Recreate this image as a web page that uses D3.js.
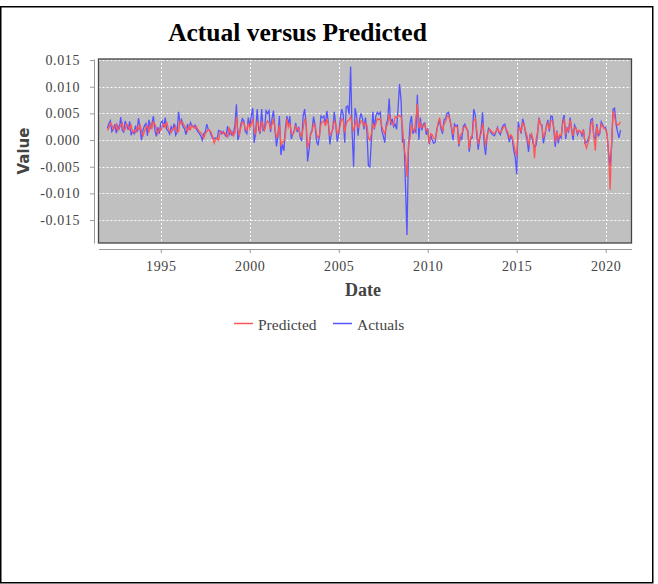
<!DOCTYPE html>
<html>
<head>
<meta charset="utf-8">
<script src="https://cdn.jsdelivr.net/npm/d3@7"></script>
<style>
  body { margin: 0; background: #fff; }
  svg { display: block; }
</style>
</head>
<body>
<div id="chart"></div>
<script>
// monthly series, Jan 1992 .. Nov 2020 (one row per year)
const startYear = 1992;
const actuals = [
  0.0022, 0.0031, 0.0036, 0.0016, 0.0020, 0.0030, 0.0013, 0.0027, 0.0020, 0.0043, 0.0018, 0.0015, // 1992
  0.0036, 0.0028, 0.0019, 0.0035, 0.0009, 0.0017, 0.0012, 0.0027, 0.0015, 0.0041, 0.0022, 0.0000, // 1993
  0.0019, 0.0027, 0.0031, 0.0008, 0.0038, 0.0021, 0.0030, 0.0045, 0.0019, 0.0007, 0.0024, 0.0012, // 1994
  0.0032, 0.0036, 0.0024, 0.0042, 0.0020, 0.0017, 0.0011, 0.0025, 0.0019, 0.0031, 0.0009, 0.0014, // 1995
  0.0053, 0.0031, 0.0038, 0.0025, 0.0021, 0.0010, 0.0030, 0.0019, 0.0033, 0.0027, 0.0024, 0.0028, // 1996
  0.0021, 0.0016, 0.0012, 0.0008, 0.0000, 0.0012, 0.0015, 0.0030, 0.0020, 0.0018, 0.0009, 0.0003, // 1997
  0.0003, 0.0004, 0.0002, 0.0018, 0.0017, 0.0012, 0.0016, 0.0011, 0.0007, 0.0026, 0.0010, 0.0018, // 1998
  0.0009, 0.0011, 0.0028, 0.0067, 0.0000, 0.0010, 0.0030, 0.0040, 0.0036, 0.0016, 0.0012, 0.0042, // 1999
  0.0025, 0.0045, 0.0060, -0.0005, 0.0015, 0.0058, 0.0020, 0.0012, 0.0058, 0.0018, 0.0022, 0.0055, // 2000
  0.0050, 0.0055, 0.0015, 0.0040, 0.0055, 0.0020, -0.0012, 0.0008, 0.0045, -0.0028, -0.0008, -0.0020, // 2001
  0.0020, 0.0045, 0.0030, 0.0045, 0.0002, 0.0012, 0.0018, 0.0032, 0.0015, 0.0025, 0.0005, -0.0002, // 2002
  0.0045, 0.0058, 0.0030, -0.0040, -0.0018, 0.0012, 0.0018, 0.0044, 0.0028, -0.0002, -0.0010, 0.0008, // 2003
  0.0045, 0.0042, 0.0045, 0.0028, 0.0055, 0.0032, -0.0008, 0.0012, 0.0022, 0.0053, 0.0028, -0.0003, // 2004
  0.0012, 0.0040, 0.0058, 0.0048, -0.0005, 0.0062, 0.0064, 0.0048, 0.0138, 0.0015, -0.0050, 0.0060, // 2005
  0.0045, 0.0008, 0.0038, 0.0050, 0.0040, 0.0020, 0.0042, 0.0015, -0.0048, -0.0050, 0.0000, 0.0053, // 2006
  0.0020, 0.0045, 0.0052, 0.0048, 0.0052, 0.0018, 0.0008, -0.0005, 0.0030, 0.0038, 0.0078, 0.0028, // 2007
  0.0040, 0.0025, 0.0030, 0.0020, 0.0060, 0.0105, 0.0075, -0.0005, 0.0002, -0.0085, -0.0178, -0.0020, // 2008
  0.0030, 0.0045, 0.0012, 0.0020, 0.0015, 0.0085, 0.0000, 0.0042, 0.0018, 0.0030, 0.0032, 0.0010, // 2009
  0.0022, -0.0008, 0.0010, 0.0000, -0.0006, -0.0004, 0.0018, 0.0030, 0.0036, 0.0020, 0.0012, 0.0038, // 2010
  0.0040, 0.0050, 0.0052, 0.0038, 0.0022, 0.0000, 0.0030, 0.0026, 0.0028, -0.0012, 0.0006, 0.0002, // 2011
  0.0026, 0.0030, 0.0022, 0.0018, -0.0022, 0.0002, 0.0004, 0.0058, 0.0048, 0.0012, -0.0018, 0.0002, // 2012
  0.0020, 0.0052, -0.0006, -0.0028, 0.0006, 0.0022, 0.0018, 0.0012, 0.0010, 0.0008, 0.0015, 0.0024, // 2013
  0.0014, 0.0010, 0.0022, 0.0028, 0.0030, 0.0018, 0.0010, -0.0004, 0.0008, 0.0002, -0.0020, -0.0032, // 2014
  -0.0064, 0.0034, 0.0022, 0.0012, 0.0040, 0.0030, 0.0012, 0.0000, -0.0022, 0.0010, 0.0008, -0.0006, // 2015
  -0.0012, -0.0010, 0.0010, 0.0042, 0.0030, 0.0028, -0.0006, 0.0010, 0.0026, 0.0038, 0.0016, 0.0045, // 2016
  0.0044, 0.0020, -0.0013, 0.0018, -0.0006, 0.0008, 0.0004, 0.0036, 0.0047, 0.0002, 0.0022, 0.0016, // 2017
  0.0042, 0.0020, 0.0000, 0.0028, 0.0022, 0.0010, 0.0018, 0.0016, 0.0008, 0.0020, -0.0006, -0.0004, // 2018
  0.0000, 0.0008, 0.0038, 0.0040, 0.0006, 0.0002, 0.0030, 0.0008, 0.0012, 0.0034, 0.0028, 0.0022, // 2019
  0.0024, 0.0008, -0.0025, -0.0048, -0.0010, 0.0058, 0.0060, 0.0030, 0.0015, 0.0004, 0.0019          // 2020
];
const predicted = [
  0.0018, 0.0022, 0.0032, 0.0028, 0.0020, 0.0024, 0.0030, 0.0018, 0.0024, 0.0026, 0.0032, 0.0018, // 1992
  0.0020, 0.0030, 0.0026, 0.0020, 0.0028, 0.0015, 0.0018, 0.0014, 0.0024, 0.0020, 0.0030, 0.0016, // 1993
  0.0008, 0.0016, 0.0024, 0.0026, 0.0014, 0.0030, 0.0022, 0.0034, 0.0030, 0.0022, 0.0012, 0.0020, // 1994
  0.0018, 0.0026, 0.0030, 0.0024, 0.0034, 0.0022, 0.0018, 0.0014, 0.0022, 0.0020, 0.0026, 0.0015, // 1995
  0.0016, 0.0038, 0.0030, 0.0032, 0.0026, 0.0022, 0.0016, 0.0026, 0.0020, 0.0028, 0.0024, 0.0022, // 1996
  0.0026, 0.0020, 0.0016, 0.0014, 0.0010, 0.0004, 0.0012, 0.0016, 0.0020, 0.0018, 0.0014, 0.0006, // 1997
  -0.0006, 0.0002, 0.0004, 0.0000, 0.0014, 0.0016, 0.0012, 0.0014, 0.0010, 0.0006, 0.0024, 0.0012, // 1998
  0.0016, 0.0008, 0.0014, 0.0044, 0.0018, 0.0010, 0.0024, 0.0034, 0.0032, 0.0020, 0.0018, 0.0032, // 1999
  0.0022, 0.0030, 0.0040, 0.0018, 0.0012, 0.0036, 0.0028, 0.0014, 0.0036, 0.0026, 0.0018, 0.0030, // 2000
  0.0036, 0.0032, 0.0020, 0.0030, 0.0038, 0.0022, 0.0004, 0.0012, 0.0028, -0.0009, -0.0004, -0.0002, // 2001
  0.0008, 0.0040, 0.0024, 0.0032, 0.0014, 0.0010, 0.0016, 0.0026, 0.0020, 0.0022, 0.0012, 0.0006, // 2002
  0.0022, 0.0040, 0.0032, -0.0015, -0.0004, 0.0010, 0.0016, 0.0030, 0.0030, 0.0012, 0.0004, 0.0008, // 2003
  0.0030, 0.0034, 0.0036, 0.0026, 0.0040, 0.0030, 0.0010, 0.0014, 0.0020, 0.0036, 0.0030, 0.0012, // 2004
  0.0014, 0.0028, 0.0040, 0.0038, 0.0014, 0.0030, 0.0036, 0.0038, 0.0044, 0.0030, 0.0016, 0.0030, // 2005
  0.0038, 0.0024, 0.0028, 0.0036, 0.0034, 0.0026, 0.0032, 0.0028, 0.0004, 0.0000, 0.0012, 0.0030, // 2006
  0.0024, 0.0030, 0.0040, 0.0038, 0.0040, 0.0026, 0.0018, 0.0012, 0.0024, 0.0030, 0.0048, 0.0034, // 2007
  0.0032, 0.0028, 0.0044, 0.0042, 0.0045, 0.0046, 0.0044, 0.0025, -0.0015, -0.0030, -0.0069, -0.0010, // 2008
  0.0002, 0.0028, 0.0020, 0.0016, 0.0040, 0.0068, 0.0022, 0.0032, 0.0024, 0.0026, 0.0030, 0.0018, // 2009
  0.0020, -0.0006, 0.0012, 0.0010, 0.0004, 0.0002, 0.0014, 0.0032, 0.0042, 0.0026, 0.0018, 0.0030, // 2010
  0.0034, 0.0044, 0.0046, 0.0036, 0.0026, 0.0010, 0.0024, 0.0026, 0.0024, -0.0008, 0.0010, 0.0012, // 2011
  0.0022, 0.0026, 0.0024, 0.0016, -0.0016, 0.0006, 0.0008, 0.0036, 0.0040, 0.0020, -0.0008, 0.0006, // 2012
  0.0012, 0.0032, 0.0010, -0.0010, 0.0008, 0.0018, 0.0020, 0.0016, 0.0014, 0.0012, 0.0016, 0.0022, // 2013
  0.0016, 0.0014, 0.0018, 0.0024, 0.0026, 0.0020, 0.0014, 0.0004, 0.0010, 0.0006, -0.0008, -0.0020, // 2014
  -0.0030, 0.0018, 0.0024, 0.0016, 0.0032, 0.0028, 0.0016, 0.0008, -0.0010, 0.0006, 0.0012, 0.0002, // 2015
  -0.0034, 0.0000, 0.0014, 0.0040, 0.0030, 0.0024, 0.0004, 0.0012, 0.0024, 0.0032, 0.0020, 0.0036, // 2016
  0.0036, 0.0024, -0.0004, 0.0016, 0.0002, 0.0010, 0.0008, 0.0030, 0.0040, 0.0010, 0.0022, 0.0018, // 2017
  0.0038, 0.0022, 0.0008, 0.0024, 0.0022, 0.0014, 0.0018, 0.0016, 0.0012, 0.0018, -0.0004, -0.0015, // 2018
  -0.0006, 0.0006, 0.0030, 0.0034, 0.0008, -0.0020, 0.0026, 0.0012, 0.0014, 0.0030, 0.0026, 0.0022, // 2019
  0.0020, 0.0010, -0.0030, -0.0093, -0.0004, 0.0055, 0.0044, 0.0030, 0.0028, 0.0030, 0.0034          // 2020
];
const yTicks = [-0.015, -0.010, -0.005, 0.000, 0.005, 0.010, 0.015];
const xTicks = [1995, 2000, 2005, 2010, 2015, 2020];
const seriesNames = ["Predicted", "Actuals"];
const seriesColors = ["#ff5555", "#5555ff"];

const width = 658, height = 584;
const plot = { left: 98.5, right: 631.5, top: 59, bottom: 243 };

const svg = d3.select("#chart").append("svg")
  .attr("width", width).attr("height", height);

// outer frame
svg.append("rect")
  .attr("x", 0.75).attr("y", 6.75)
  .attr("width", 652).attr("height", 576)
  .attr("fill", "none").attr("stroke", "#000").attr("stroke-width", 1.5);

const x = d3.scaleLinear().domain([1991.5, 2021.45]).range([plot.left, plot.right]);
const y = d3.scaleLinear().domain([-0.0193, 0.0152]).range([plot.bottom, plot.top]);

const dates = actuals.map((d, i) => startYear + i / 12);

// plot background
svg.append("rect")
  .attr("x", plot.left).attr("y", plot.top)
  .attr("width", plot.right - plot.left).attr("height", plot.bottom - plot.top)
  .attr("fill", "#c0c0c0");

// grid
const grid = svg.append("g").attr("stroke", "#fff").attr("stroke-dasharray", "2,2").attr("stroke-width", 1);
grid.selectAll(".gx").data(xTicks).join("line")
  .attr("x1", d => Math.round(x(d)) + 0.5).attr("x2", d => Math.round(x(d)) + 0.5)
  .attr("y1", plot.top).attr("y2", plot.bottom);
grid.selectAll(".gy").data(yTicks).join("line")
  .attr("y1", d => Math.round(y(d)) + 0.5).attr("y2", d => Math.round(y(d)) + 0.5)
  .attr("x1", plot.left).attr("x2", plot.right);

// series lines (actuals under predicted)
const line = d3.line().x((d, i) => x(dates[i])).y(d => y(d));
svg.append("path").datum(actuals)
  .attr("fill", "none").attr("stroke", seriesColors[1]).attr("stroke-width", 1.3)
  .attr("d", line);
svg.append("path").datum(predicted)
  .attr("fill", "none").attr("stroke", seriesColors[0]).attr("stroke-width", 1.3)
  .attr("d", line);

// plot outline
svg.append("rect")
  .attr("x", plot.left).attr("y", plot.top)
  .attr("width", plot.right - plot.left).attr("height", plot.bottom - plot.top)
  .attr("fill", "none").attr("stroke", "#444").attr("stroke-width", 1.3);

// axes
function styleAxis(g) {
  g.select(".domain").attr("stroke", "#999");
  g.selectAll(".tick line").attr("stroke", "#999");
  g.selectAll(".tick text")
    .attr("fill", "#444")
    .style("font-family", "'Liberation Serif', 'Times New Roman', serif")
    .style("font-size", "14px")
    .style("letter-spacing", "0.6px");
}

svg.append("g")
  .attr("transform", "translate(94,0)")
  .call(d3.axisLeft(y).tickValues(yTicks).tickFormat(d => d.toFixed(3)).tickSize(4).tickSizeOuter(0).tickPadding(10))
  .call(styleAxis);

svg.append("g")
  .attr("transform", "translate(0,249)")
  .call(d3.axisBottom(x).tickValues(xTicks).tickFormat(d3.format("d")).tickSize(4).tickSizeOuter(0).tickPadding(8))
  .call(styleAxis);

// titles
svg.append("text")
  .attr("x", 297.5).attr("y", 41)
  .attr("text-anchor", "middle")
  .style("font-family", "'Liberation Serif', 'Times New Roman', serif")
  .style("font-weight", "bold").style("font-size", "25.5px")
  .text("Actual versus Predicted");

svg.append("text")
  .attr("x", 363).attr("y", 296)
  .attr("text-anchor", "middle").attr("fill", "#444")
  .style("font-family", "'Liberation Serif', 'Times New Roman', serif")
  .style("font-weight", "bold").style("font-size", "18px")
  .text("Date");

svg.append("text")
  .attr("transform", "translate(29,151) rotate(-90)")
  .attr("text-anchor", "middle").attr("fill", "#444")
  .style("font-family", "'DejaVu Sans', sans-serif")
  .style("font-weight", "bold").style("font-size", "15px")
  .text("Value");

// legend
const legendX = [234, 333];
const legend = svg.append("g");
seriesNames.forEach((name, i) => {
  legend.append("line")
    .attr("x1", legendX[i]).attr("x2", legendX[i] + 19)
    .attr("y1", 323.5).attr("y2", 323.5)
    .attr("stroke", seriesColors[i]).attr("stroke-width", 1.5);
  legend.append("text")
    .attr("x", legendX[i] + 24).attr("y", 330)
    .attr("fill", "#444")
    .style("font-family", "'Liberation Serif', 'Times New Roman', serif")
    .style("font-size", "15.5px")
    .text(name);
});
</script>
</body>
</html>
